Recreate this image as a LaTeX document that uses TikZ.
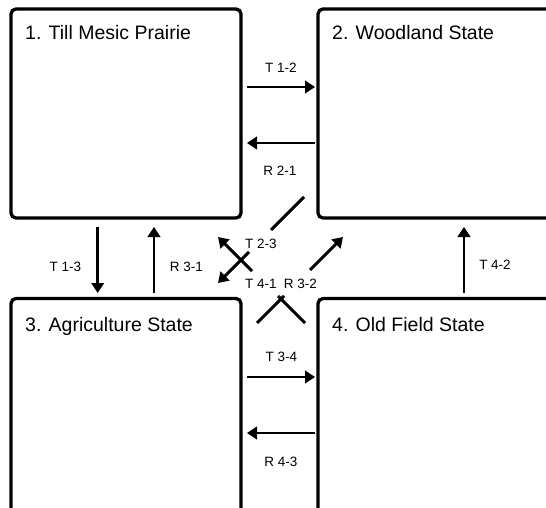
\documentclass[tikz,border=0pt]{standalone}
\usepackage{fontspec}
\setmainfont{Liberation Sans}
\usetikzlibrary{arrows.meta}
\tikzset{
  statebox/.style={draw, line width=3.3pt, rounded corners=5pt, inner sep=0pt},
  boxtitle/.style={anchor=base west, inner sep=0pt, font=\fontsize{19.5}{23}\selectfont},
  conn/.style={line width=2.9pt, -{Triangle[length=10pt,width=12.5pt]}},
  plain/.style={line width=2.9pt},
  lbl/.style={inner sep=0pt, font=\fontsize{13.5}{16}\selectfont}
}
\begin{document}
\begin{tikzpicture}[x=1pt,y=-1pt]
\clip (0,0) rectangle (546,508);
\fill[white] (0,0) rectangle (546,508);
% state boxes
\node[statebox, minimum width=230pt, minimum height=209pt] (b1) at (126,113.5) {};
\node[statebox, minimum width=242pt, minimum height=209pt] (b2) at (439,113.5) {};
\node[statebox, minimum width=230pt, minimum height=221.5pt] (b3) at (126,409.25) {};
\node[statebox, minimum width=242pt, minimum height=221.5pt] (b4) at (439,409.25) {};
% titles
\node[boxtitle] (n1) at (25,40) {1. Till Mesic Prairie};
\node[boxtitle] (n2) at (332,40) {2. Woodland State};
\node[boxtitle] (n3) at (25,331) {3. Agriculture State};
\node[boxtitle] (n4) at (332,331) {4. Old Field State};
% connector end points
\coordinate (t12a) at (247,87);   \coordinate (t12b) at (315,87);
\coordinate (r21a) at (315,143);  \coordinate (r21b) at (247,143);
\coordinate (t34a) at (247,377);  \coordinate (t34b) at (315,377);
\coordinate (r43a) at (315,433);  \coordinate (r43b) at (247,433);
\coordinate (t13a) at (97.7,227); \coordinate (t13b) at (97.7,293);
\coordinate (r31a) at (154,293);  \coordinate (r31b) at (154,227);
\coordinate (t42a) at (464,293);  \coordinate (t42b) at (464,227);
\coordinate (t23a) at (304,197);  \coordinate (t23b) at (271,230);
\coordinate (t23c) at (249,252);  \coordinate (t23d) at (218,283);
\coordinate (t41a) at (305,323);  \coordinate (t41b) at (278,296);
\coordinate (t41c) at (252,271);  \coordinate (t41d) at (218,237);
\coordinate (r32a) at (257,323);  \coordinate (r32b) at (284,296);
\coordinate (r32c) at (310,270);  \coordinate (r32d) at (343,237);
% connectors
\draw[conn] (t12a) -- (t12b);
\draw[conn] (r21a) -- (r21b);
\draw[conn] (t34a) -- (t34b);
\draw[conn] (r43a) -- (r43b);
\draw[conn] (t13a) -- (t13b);
\draw[conn] (r31a) -- (r31b);
\draw[conn] (t42a) -- (t42b);
\draw[plain] (t23a) -- (t23b);
\draw[conn] (t23c) -- (t23d);
\draw[plain] (t41a) -- (t41b);
\draw[conn] (t41c) -- (t41d);
\draw[plain] (r32a) -- (r32b);
\draw[conn] (r32c) -- (r32d);
% labels
\node[lbl] (l12) at (281,68) {T 1-2};
\node[lbl] (l21) at (280,171) {R 2-1};
\node[lbl] (l34) at (281.5,357) {T 3-4};
\node[lbl] (l43) at (281,461.5) {R 4-3};
\node[lbl] (l13) at (65.5,266.5) {T 1-3};
\node[lbl] (l31) at (186.5,266.5) {R 3-1};
\node[lbl] (l42) at (495,264.5) {T 4-2};
\node[lbl] (l23) at (261,244) {T 2-3};
\node[lbl] (l41) at (261,284) {T 4-1};
\node[lbl] (l32) at (300.5,284) {R 3-2};
\end{tikzpicture}
\end{document}
